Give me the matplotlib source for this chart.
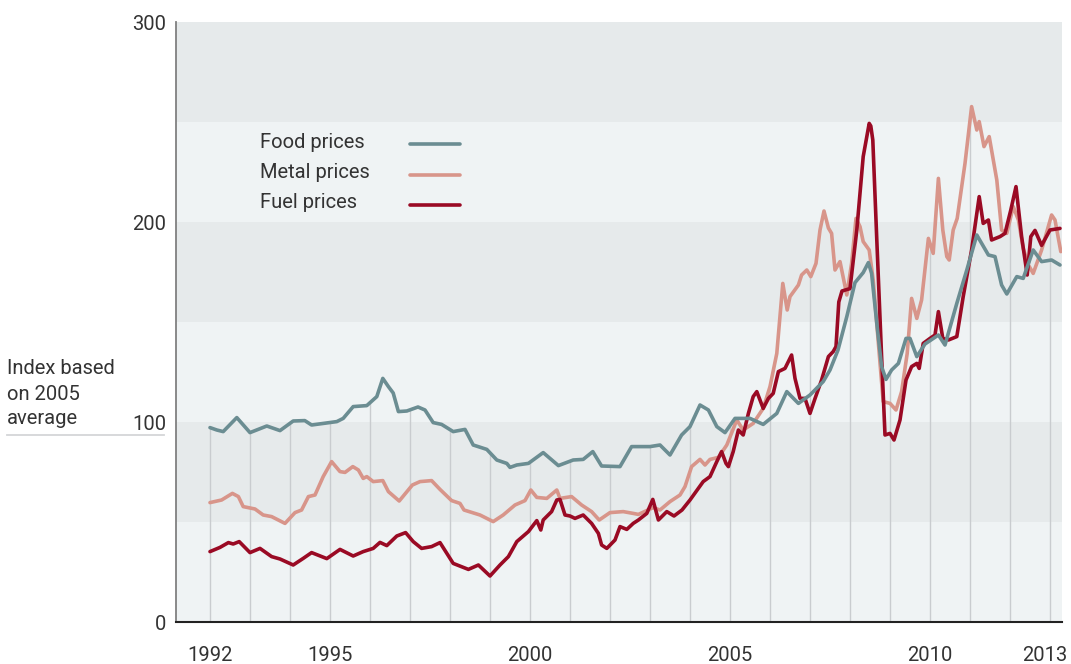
import numpy as np
import matplotlib
matplotlib.use("Agg")
import matplotlib.pyplot as plt
from matplotlib.lines import Line2D
from matplotlib.transforms import ScaledTranslation

plt.rcParams['font.family'] = ['Roboto', 'DejaVu Sans']

# values (time in years, index 2005 = 100)
food_t = [1992.0, 1992.17, 1992.33, 1992.67, 1993.0, 1993.42, 1993.75, 1994.08, 1994.37, 1994.54,
          1995.17, 1995.33, 1995.58, 1995.92, 1996.17, 1996.32, 1996.46, 1996.58, 1996.71, 1996.92,
          1997.2, 1997.375, 1997.58, 1997.79, 1998.08, 1998.375, 1998.58, 1998.92, 1999.17, 1999.42,
          1999.5, 1999.67, 1999.96, 2000.33, 2000.71, 2001.08, 2001.33, 2001.57, 2001.79, 2002.25,
          2002.54, 2003.0, 2003.25, 2003.5, 2003.79, 2004.0, 2004.25, 2004.46, 2004.67, 2004.875,
          2005.125, 2005.5, 2005.83, 2006.17, 2006.42, 2006.71, 2007.0, 2007.33, 2007.5, 2007.7,
          2007.92, 2008.125, 2008.33, 2008.46, 2008.54, 2008.67, 2008.79, 2008.9, 2009.04, 2009.21,
          2009.4, 2009.5, 2009.67, 2009.875, 2010.21, 2010.375, 2010.67, 2010.92, 2011.17, 2011.46,
          2011.625, 2011.79, 2011.92, 2012.17, 2012.33, 2012.58, 2012.79, 2013.04, 2013.25]
food_v = [97.2, 96.0, 95.2, 102.2, 94.7, 98.0, 95.7, 100.5, 100.7, 98.5,
          100.2, 101.8, 107.7, 108.2, 112.7, 121.8, 117.7, 114.5, 105.2, 105.5,
          107.5, 106.0, 99.7, 98.8, 95.2, 96.3, 88.5, 86.3, 81.0, 79.3,
          77.3, 78.5, 79.3, 84.7, 78.2, 81.0, 81.3, 85.2, 78.0, 77.7,
          87.7, 87.7, 88.5, 83.5, 93.5, 97.7, 108.5, 106.0, 97.7, 94.7,
          101.8, 101.8, 98.8, 104.3, 115.2, 109.3, 113.5, 120.2, 126.0, 136.0,
          152.7, 169.7, 174.7, 179.7, 174.3, 149.3, 127.7, 121.3, 126.0, 129.3,
          141.8, 141.8, 132.7, 139.0, 143.5, 138.5, 159.3, 176.0, 193.5, 183.5,
          182.7, 168.5, 164.0, 172.7, 171.8, 186.0, 180.2, 181.0, 178.5]

metal_t = [1992.0, 1992.29, 1992.56, 1992.71, 1992.83, 1993.125, 1993.33, 1993.54, 1993.875, 1994.125,
           1994.29, 1994.46, 1994.625, 1994.83, 1995.04, 1995.25, 1995.375, 1995.57, 1995.71, 1995.83,
           1995.92, 1996.08, 1996.32, 1996.46, 1996.73, 1997.06, 1997.25, 1997.54, 1997.75, 1998.04,
           1998.25, 1998.35, 1998.75, 1999.08, 1999.33, 1999.625, 1999.875, 2000.02, 2000.17, 2000.42,
           2000.67, 2000.75, 2001.04, 2001.29, 2001.54, 2001.73, 2002.0, 2002.33, 2002.58, 2002.71,
           2003.08, 2003.25, 2003.5, 2003.75, 2003.875, 2004.04, 2004.25, 2004.375, 2004.5, 2004.71,
           2004.92, 2005.17, 2005.33, 2005.58, 2005.83, 2006.0, 2006.17, 2006.32, 2006.43, 2006.5,
           2006.71, 2006.79, 2006.92, 2007.02, 2007.15, 2007.25, 2007.35, 2007.46, 2007.54, 2007.625,
           2007.75, 2007.92, 2008.04, 2008.15, 2008.25, 2008.33, 2008.48, 2008.58, 2008.71, 2008.83,
           2009.0, 2009.15, 2009.29, 2009.43, 2009.54, 2009.67, 2009.79, 2009.96, 2010.08, 2010.21,
           2010.32, 2010.42, 2010.48, 2010.58, 2010.68, 2010.875, 2011.04, 2011.17, 2011.23, 2011.35,
           2011.48, 2011.67, 2011.79, 2011.92, 2012.08, 2012.21, 2012.33, 2012.46, 2012.58, 2012.79,
           2013.04, 2013.125, 2013.27]
metal_v = [59.7, 61.0, 64.3, 62.7, 57.7, 56.5, 53.5, 52.7, 49.3, 54.7,
           56.0, 62.7, 63.5, 72.7, 80.2, 75.2, 74.8, 77.7, 76.0, 71.8,
           72.7, 70.2, 70.7, 65.2, 60.5, 68.5, 70.2, 70.7, 66.3, 60.7,
           59.3, 56.0, 53.5, 50.2, 53.5, 58.5, 60.7, 66.0, 62.3, 61.8,
           66.0, 61.8, 62.7, 58.5, 55.2, 51.0, 54.7, 55.2, 54.3, 53.8,
           57.2, 56.0, 60.2, 63.5, 67.7, 77.7, 81.3, 78.5, 81.3, 82.3,
           88.5, 101.0, 96.0, 99.3, 106.8, 117.7, 134.3, 169.3, 156.0, 162.7,
           168.5, 173.5, 176.0, 172.7, 179.3, 196.0, 205.5, 197.0, 194.3, 176.0,
           180.2, 163.5, 179.3, 201.8, 197.7, 190.2, 186.0, 171.0, 139.3, 110.2,
           109.3, 106.0, 115.2, 134.3, 161.8, 151.8, 161.0, 191.8, 184.3, 221.8,
           196.0, 182.7, 181.0, 196.0, 201.8, 229.3, 257.7, 246.0, 250.2, 237.7,
           242.7, 221.0, 196.0, 194.3, 207.7, 201.0, 186.8, 178.5, 174.3, 186.0,
           203.5, 201.0, 185.2]

fuel_t = [1992.0, 1992.25, 1992.46, 1992.58, 1992.73, 1993.0, 1993.25, 1993.54, 1993.75, 1994.08,
          1994.33, 1994.54, 1994.92, 1995.25, 1995.58, 1995.83, 1996.08, 1996.25, 1996.42, 1996.67,
          1996.89, 1997.08, 1997.29, 1997.54, 1997.75, 1998.08, 1998.46, 1998.71, 1999.0, 1999.25,
          1999.46, 1999.67, 1999.96, 2000.17, 2000.27, 2000.33, 2000.54, 2000.67, 2000.75, 2000.875,
          2001.0, 2001.125, 2001.33, 2001.54, 2001.71, 2001.79, 2001.92, 2002.125, 2002.25, 2002.42,
          2002.58, 2002.71, 2002.92, 2003.07, 2003.21, 2003.42, 2003.6, 2003.8, 2004.0, 2004.33,
          2004.5, 2004.67, 2004.79, 2004.9, 2004.96, 2005.08, 2005.21, 2005.33, 2005.46, 2005.58,
          2005.67, 2005.83, 2005.96, 2006.08, 2006.21, 2006.375, 2006.54, 2006.625, 2006.75, 2006.875,
          2007.0, 2007.125, 2007.29, 2007.46, 2007.58, 2007.65, 2007.72, 2007.8, 2008.0, 2008.17,
          2008.33, 2008.48, 2008.52, 2008.57, 2008.67, 2008.79, 2008.875, 2009.0, 2009.1, 2009.25,
          2009.4, 2009.54, 2009.67, 2009.73, 2009.83, 2010.0, 2010.125, 2010.21, 2010.32, 2010.46,
          2010.67, 2010.83, 2011.04, 2011.23, 2011.33, 2011.46, 2011.54, 2011.75, 2011.875, 2012.02,
          2012.15, 2012.29, 2012.43, 2012.52, 2012.625, 2012.79, 2013.0, 2013.25]
fuel_v = [35.2, 37.3, 39.7, 39.0, 40.2, 34.7, 36.8, 32.7, 31.5, 28.5,
          31.8, 34.7, 31.7, 36.3, 33.0, 35.2, 36.8, 39.8, 38.2, 43.0,
          44.7, 40.2, 36.8, 37.7, 39.7, 29.3, 26.3, 28.5, 23.0, 28.5,
          32.7, 40.2, 45.2, 50.7, 46.0, 51.0, 55.2, 61.0, 61.3, 53.5,
          53.0, 51.8, 53.5, 49.3, 44.3, 38.5, 36.8, 41.0, 47.7, 46.3,
          49.3, 51.0, 54.3, 61.3, 51.0, 55.2, 53.0, 56.0, 61.0, 70.2,
          72.7, 80.2, 85.2, 79.3, 77.7, 85.2, 96.0, 93.5, 104.3, 112.7,
          115.2, 106.8, 111.8, 114.3, 125.2, 126.8, 133.5, 121.8, 111.8, 111.8,
          104.3, 111.7, 121.0, 132.7, 135.2, 137.7, 160.0, 165.5, 166.7, 196.0,
          232.7, 249.3, 248.0, 241.0, 191.0, 132.7, 93.5, 94.3, 91.0, 101.0,
          121.0, 127.7, 129.3, 126.8, 139.3, 141.8, 143.5, 155.2, 141.8, 141.0,
          142.7, 162.7, 186.0, 212.7, 199.3, 201.0, 191.0, 192.7, 194.3, 206.0,
          217.7, 192.7, 173.5, 192.7, 195.8, 188.3, 196.0, 196.8]

series_names = ['Food prices', 'Metal prices', 'Fuel prices']
grid_years = list(range(1992, 2014))
tick_years = [1992, 1995, 2000, 2005, 2010, 2013]
y_ticks = [0, 100, 200, 300]

food_col = '#6b8d92'
metal_col = '#d8958a'
fuel_col = '#9a0a24'
text_col = '#333333'
band_dark = '#e6eaeb'
band_light = '#eff3f4'
fs = 14.5

fig = plt.figure(figsize=(10.71, 6.64), dpi=100)
ax = fig.add_axes([176/1071, 42/664, (1062-176)/1071, 600/664])
ax.set_xlim(1991.15, 2013.3)
ax.set_ylim(0, 300)

# horizontal bands of 50
for i, lo in enumerate(range(0, 300, 50)):
    ax.axhspan(lo, lo + 50, color=band_dark if i % 2 else band_light, lw=0, zorder=0)

# year lines run up to the highest series
tops = [max(np.interp(yr, food_t, food_v), np.interp(yr, metal_t, metal_v),
            np.interp(yr, fuel_t, fuel_v)) for yr in grid_years]
ax.vlines(grid_years, 0, tops, color='#c9cccf', lw=1, zorder=1)

lw = 2.6
kw = dict(lw=lw, solid_capstyle='round', solid_joinstyle='round')
ax.plot(metal_t, metal_v, color=metal_col, zorder=3, **kw)
ax.plot(fuel_t, fuel_v, color=fuel_col, zorder=4, **kw)
ax.plot(food_t, food_v, color=food_col, zorder=5, **kw)

for s in ['top', 'right']:
    ax.spines[s].set_visible(False)
ax.spines['left'].set_color('#808080')
ax.spines['left'].set_linewidth(1.3)
ax.spines['bottom'].set_color('#222222')
ax.spines['bottom'].set_linewidth(1.5)

ax.set_xticks(tick_years)
ax.set_xticklabels([str(y) for y in tick_years])
ax.set_yticks(y_ticks)
ax.set_yticklabels([str(y) for y in y_ticks])
ax.tick_params(axis='both', length=0, labelsize=fs, labelcolor=text_col)
ax.tick_params(axis='x', pad=17)
ax.tick_params(axis='y', pad=7)
# last year label sits a little left of its line
last = ax.get_xticklabels()[-1]
last.set_transform(last.get_transform() + ScaledTranslation(-5/100, 0, fig.dpi_scale_trans))

# hand-made legend: text left, sample line right
leg_y = [142, 173, 203]
for name, col, yp in zip(series_names, [food_col, metal_col, fuel_col], leg_y):
    fy = (664 - yp) / 664
    fig.text(260/1071, fy, name, fontsize=fs, color=text_col, va='center', ha='left')
    fig.add_artist(Line2D([410/1071, 460/1071], [fy - 2/664] * 2, color=col, lw=lw,
                          solid_capstyle='round'))

fig.text(7/1071, (664 - 394)/664, 'Index based\non 2005\naverage', fontsize=fs,
         color=text_col, va='center', ha='left', linespacing=1.4)
fig.add_artist(Line2D([7/1071, 164/1071], [(664 - 435)/664] * 2, color='#d4d6d8', lw=1.3))

fig.savefig('out.png', dpi=100)
